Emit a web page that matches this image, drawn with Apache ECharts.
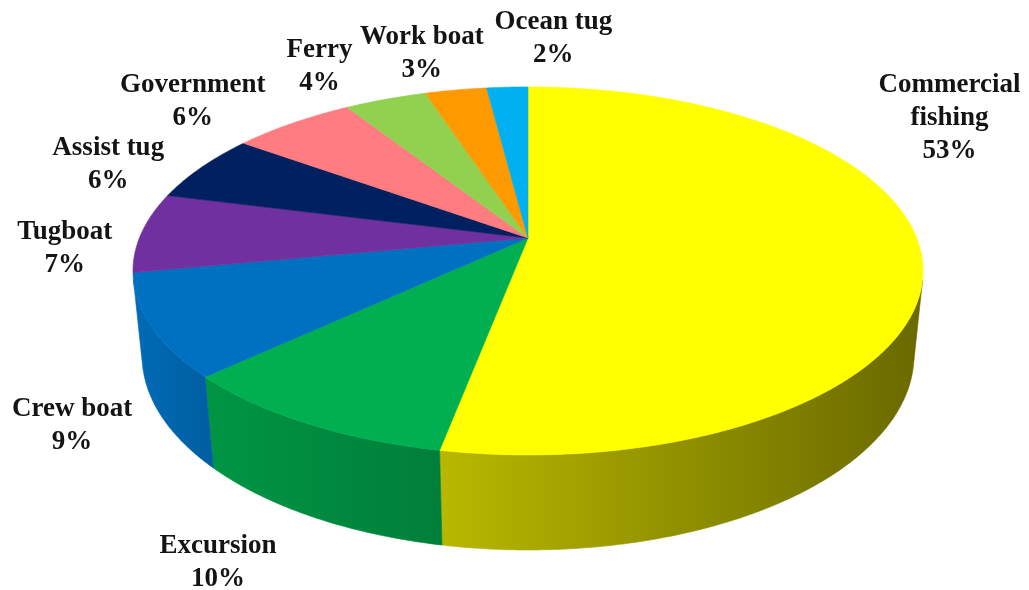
<!DOCTYPE html>
<html>
<head>
<meta charset="utf-8">
<script src="https://cdn.jsdelivr.net/npm/echarts@6/dist/echarts.min.js"></script>
<style>
  html, body { margin: 0; padding: 0; background: #ffffff; }
  #chart { width: 1029px; height: 590px; }
</style>
</head>
<body>
<div id="chart"></div>
<script>
// Vessel types and their share of the fleet (%), clockwise from 12 o'clock
const categories = ['Commercial\nfishing', 'Excursion', 'Crew boat', 'Tugboat', 'Assist tug', 'Government', 'Ferry', 'Work boat', 'Ocean tug'];
const shares = [53, 10, 9, 7, 6, 6, 4, 3, 2];

// Slice colours (top face); side walls are shaded from these
const palette = ['#FFFF00', '#00B050', '#0070C0', '#7030A0', '#002060', '#FF7C80', '#92D050', '#FF9900', '#00B0F0'];

// Label offsets (px) from the slice's rim point at its mid-angle
const labelNudge = [[28, -137], [-88, 139], [-79, 100], [-77, 16], [-93, -3], [-100, -22], [-66, -33], [-34, -36], [46, -49]];

// Perspective camera for the tilted disc
const view = { cx: 528, cy: 238, focal: 1929.6, dist: 4.965, tilt: Math.asin(0.4583), thick: 0.2464 };
const sinT = Math.sin(view.tilt), cosT = Math.cos(view.tilt);

// phi: clockwise from the far side of the disc; y: 0 = top face, -thick = bottom face
function project(phi, y) {
  const x = Math.sin(phi), z = -Math.cos(phi);
  const d = view.dist - z * cosT - y * sinT;
  return [view.cx + view.focal * x / d, view.cy + view.focal * (z * sinT - y * cosT) / d];
}

const total = shares.reduce((a, b) => a + b, 0);
const bounds = [];
let acc = 0;
shares.forEach(v => { const a0 = acc / total * 2 * Math.PI; acc += v; bounds.push([a0, acc / total * 2 * Math.PI]); });

// Outer wall faces the camera only on the near side
const zLimit = 1 / (view.dist * cosT);
const wallFrom = Math.acos(-zLimit), wallTo = 2 * Math.PI - wallFrom;

function shade(hex, phi) {
  const deg = phi * 180 / Math.PI;
  const b = Math.min(0.97, Math.max(0.3, 0.42 + (deg - 105) * 0.0035));
  const n = parseInt(hex.slice(1), 16);
  const r = Math.round(((n >> 16) & 255) * b), g = Math.round(((n >> 8) & 255) * b), bl = Math.round((n & 255) * b);
  return 'rgb(' + r + ',' + g + ',' + bl + ')';
}

function arcPoints(a0, a1, y) {
  const n = Math.max(2, Math.ceil((a1 - a0) / (Math.PI / 360)));
  const pts = [];
  for (let k = 0; k <= n; k++) pts.push(project(a0 + (a1 - a0) * k / n, y));
  return pts;
}

function renderWall(params, api) {
  const i = params.dataIndex;
  const lo = Math.max(bounds[i][0], wallFrom), hi = Math.min(bounds[i][1], wallTo);
  if (hi <= lo) return { type: 'group', children: [] };
  const top = arcPoints(lo, hi, 0);
  const bot = arcPoints(lo, hi, -view.thick).reverse();
  const p0 = project(lo, 0), p1 = project(hi, 0);
  const fill = new echarts.graphic.LinearGradient(p0[0], 0, p1[0], 0, [
    { offset: 0, color: shade(palette[i], lo) },
    { offset: 1, color: shade(palette[i], hi) }
  ], true);
  return { type: 'polygon', shape: { points: top.concat(bot) }, style: { fill: fill, stroke: fill, lineWidth: 0.6 } };
}

function renderTop(params, api) {
  const i = params.dataIndex;
  const [a0, a1] = bounds[i];
  const pts = [project(0, 0)].concat(arcPoints(a0, a1, 0));
  pts[0] = [view.cx, view.cy];
  const mid = (a0 + a1) / 2;
  const anchor = project(mid, 0);
  return {
    type: 'group',
    children: [
      { type: 'polygon', shape: { points: pts }, style: { fill: palette[i], stroke: palette[i], lineWidth: 0.6 } },
      {
        type: 'text', z2: 100,
        style: {
          text: categories[i] + '\n' + api.value(0) + '%',
          x: anchor[0] + labelNudge[i][0], y: anchor[1] + labelNudge[i][1],
          align: 'center', verticalAlign: 'middle',
          fontFamily: '"Liberation Serif", "Times New Roman", serif',
          fontWeight: 'bold', fontSize: 27, lineHeight: 33, fill: '#141414'
        }
      }
    ]
  };
}

const chart = echarts.init(document.getElementById('chart'), null, { renderer: 'canvas' });
const seriesData = shares.map((v, i) => ({ name: categories[i], value: [v] }));
chart.setOption({
  backgroundColor: '#ffffff',
  animation: false,
  series: [
    { type: 'custom', coordinateSystem: 'none', silent: true, z: 1, renderItem: renderWall, data: seriesData },
    { type: 'custom', coordinateSystem: 'none', silent: true, z: 2, renderItem: renderTop, data: seriesData }
  ]
});
</script>
</body>
</html>
